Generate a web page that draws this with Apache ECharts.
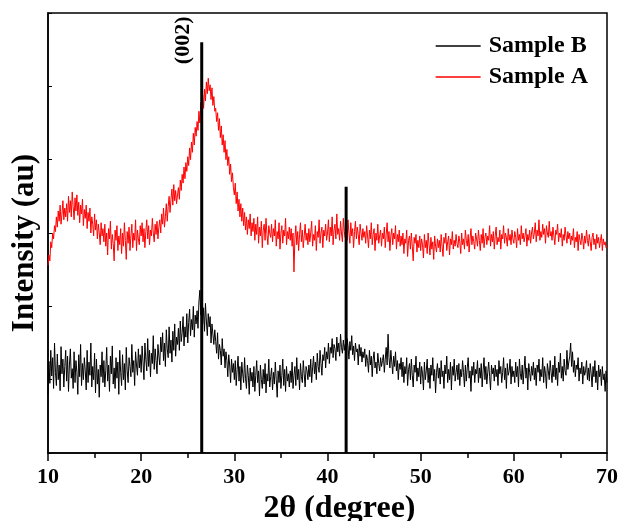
<!DOCTYPE html>
<html>
<head>
<meta charset="utf-8">
<script src="https://cdn.jsdelivr.net/npm/echarts@6/dist/echarts.min.js"></script>
<style>
  html, body { margin: 0; padding: 0; background: #fff; }
  #main { width: 619px; height: 521px; }
</style>
</head>
<body>
<div id="main"></div>
<script>
// 2θ scan grid
var thetaStart = 10;
var thetaStep = 0.1;

// Sample A (red), intensity (a.u.), one value per 0.1 degree, 10..70
var sampleA = [
  256, 270, 262, 288, 280, 300, 292, 310, 302, 322, 308, 330, 316, 338, 312, 326, 344, 318, 334, 322,
  340, 316, 350, 328, 344, 322, 356, 336, 318, 348, 330, 352, 324, 342, 314, 338, 326, 346, 310, 332,
  320, 338, 306, 328, 316, 334, 300, 322, 312, 296, 326, 304, 318, 292, 312, 300, 284, 314, 296, 306,
  288, 312, 282, 300, 270, 306, 292, 316, 278, 298, 286, 262, 304, 290, 310, 276, 296, 284, 306, 272,
  300, 282, 314, 290, 264, 302, 286, 308, 276, 296, 312, 280, 300, 290, 318, 276, 304, 292, 284, 310,
  296, 314, 288, 306, 280, 302, 318, 292, 310, 284, 304, 296, 320, 300, 288, 312, 298, 316, 292, 308,
  318, 300, 326, 312, 334, 308, 322, 340, 316, 336, 350, 328, 346, 360, 338, 366, 344, 358, 340, 352,
  362, 346, 372, 358, 380, 368, 390, 374, 396, 384, 404, 392, 416, 400, 424, 410, 436, 420, 444, 432,
  452, 440, 466, 450, 478, 462, 488, 470, 496, 480, 506, 490, 511, 494, 502, 482, 498, 474, 486, 466,
  470, 452, 464, 440, 456, 430, 446, 420, 434, 410, 426, 400, 414, 392, 404, 380, 394, 370, 382, 362,
  352, 368, 340, 356, 330, 346, 322, 340, 316, 334, 310, 328, 304, 322, 298, 318, 306, 326, 296, 314,
  302, 320, 290, 312, 298, 322, 286, 308, 296, 316, 280, 304, 312, 290, 320, 298, 284, 310, 300, 294,
  312, 288, 306, 296, 318, 282, 302, 292, 314, 278, 300, 310, 286, 304, 296, 320, 284, 302, 292, 308,
  290, 306, 282, 300, 247, 292, 310, 284, 302, 276, 298, 314, 288, 304, 280, 296, 312, 290, 300, 284,
  306, 288, 300, 316, 282, 298, 290, 310, 276, 302, 294, 318, 286, 300, 308, 280, 304, 296, 312, 290,
  300, 318, 288, 308, 296, 322, 284, 304, 312, 292, 326, 298, 306, 290, 316, 300, 288, 320, 302, 294,
  310, 290, 318, 300, 286, 314, 296, 306, 280, 302, 316, 292, 308, 298, 284, 312, 300, 290, 306, 294,
  302, 286, 310, 296, 280, 304, 292, 314, 284, 298, 306, 276, 300, 290, 312, 286, 296, 304, 282, 300,
  292, 308, 280, 298, 314, 288, 302, 276, 296, 306, 284, 300, 292, 310, 278, 298, 288, 304, 282, 296,
  284, 300, 272, 292, 286, 304, 268, 290, 296, 278, 300, 282, 262, 294, 286, 298, 274, 290, 280, 296,
  276, 292, 284, 266, 298, 280, 290, 272, 300, 284, 270, 294, 278, 288, 264, 296, 282, 274, 292, 280,
  290, 274, 298, 282, 268, 294, 286, 300, 276, 288, 296, 270, 292, 284, 302, 278, 290, 282, 298, 286,
  280, 296, 288, 272, 300, 284, 292, 278, 304, 290, 282, 298, 274, 292, 306, 284, 296, 288, 278, 300,
  292, 282, 304, 290, 276, 298, 286, 306, 280, 294, 300, 284, 296, 290, 310, 282, 298, 288, 302, 278,
  296, 308, 284, 294, 288, 304, 278, 298, 292, 310, 286, 300, 294, 282, 306, 290, 298, 284, 304, 292,
  286, 302, 294, 280, 306, 290, 298, 284, 310, 292, 300, 288, 296, 306, 282, 298, 290, 304, 286, 300,
  308, 292, 300, 314, 288, 304, 296, 318, 290, 302, 294, 312, 298, 306, 286, 310, 300, 294, 316, 296,
  302, 290, 308, 296, 284, 304, 298, 312, 288, 300, 294, 306, 282, 298, 290, 308, 296, 286, 302, 292,
  300, 284, 296, 290, 306, 280, 294, 288, 302, 276, 298, 290, 284, 300, 292, 278, 296, 286, 304, 290,
  282, 298, 288, 276, 294, 300, 284, 292, 278, 298, 286, 294, 280, 290, 298, 276, 292, 284, 288, 280,
  282
];

// Sample B (black)
var sampleB = [
  80, 125, 95, 140, 105, 130, 88, 150, 110, 92, 135, 100, 120, 85, 145, 108, 128, 90, 118, 140,
  98, 132, 84, 120, 142, 102, 115, 88, 138, 96, 126, 110, 80, 134, 104, 148, 92, 122, 100, 130,
  112, 86, 140, 96, 124, 106, 150, 90, 118, 100, 136, 82, 128, 94, 114, 76, 120, 104, 138, 96,
  126, 90, 112, 144, 98, 120, 84, 132, 108, 146, 94, 116, 88, 130, 102, 124, 80, 140, 110, 92,
  134, 100, 122, 86, 144, 112, 96, 130, 118, 104, 148, 110, 126, 92, 138, 120, 106, 142, 116, 134,
  110, 146, 124, 100, 150, 128, 112, 156, 118, 140, 104, 136, 122, 160, 114, 142, 126, 108, 148, 132,
  120, 158, 138, 164, 126, 150, 118, 168, 142, 130, 172, 136, 154, 124, 166, 140, 176, 132, 158, 148,
  170, 140, 180, 152, 164, 186, 146, 172, 158, 190, 150, 178, 196, 160, 182, 168, 200, 158, 188, 176,
  194, 170, 206, 222, 188, 210, 176, 198, 166, 204, 180, 160, 190, 172, 186, 150, 176, 162, 148, 168,
  152, 136, 164, 128, 148, 140, 120, 156, 132, 142, 116, 138, 126, 104, 134, 120, 96, 128, 110, 122,
  100, 126, 92, 114, 132, 98, 118, 86, 124, 108, 96, 130, 102, 88, 120, 106, 80, 116, 98, 110,
  90, 118, 84, 106, 126, 96, 112, 78, 120, 100, 88, 114, 94, 122, 82, 108, 98, 128, 90, 104,
  116, 86, 110, 94, 124, 100, 76, 112, 96, 120, 88, 106, 128, 92, 114, 84, 118, 98, 108, 90,
  112, 96, 124, 88, 106, 118, 92, 130, 100, 114, 86, 122, 104, 96, 126, 108, 90, 118, 112, 100,
  120, 104, 128, 96, 116, 132, 108, 124, 100, 136, 118, 110, 140, 122, 106, 134, 126, 144, 116, 138,
  128, 150, 122, 144, 136, 156, 130, 148, 142, 126, 158, 138, 150, 132, 162, 144, 136, 154, 140, 148,
  132, 156, 146, 128, 152, 140, 160, 134, 146, 126, 150, 138, 142, 120, 148, 132, 144, 124, 138, 130,
  142, 118, 134, 126, 110, 140, 120, 132, 104, 128, 138, 116, 124, 108, 136, 122, 112, 130, 118, 126,
  134, 110, 128, 144, 120, 162, 130, 116, 140, 124, 108, 132, 118, 138, 112, 126, 100, 122, 114, 130,
  104, 124, 96, 118, 108, 130, 92, 114, 122, 100, 128, 106, 90, 120, 110, 132, 98, 116, 104, 124,
  94, 118, 108, 86, 124, 100, 112, 128, 96, 116, 88, 120, 106, 130, 98, 114, 82, 110, 122, 102,
  116, 94, 126, 104, 112, 88, 120, 108, 132, 96, 114, 100, 124, 86, 118, 106, 128, 98, 110, 120,
  100, 122, 92, 114, 104, 126, 110, 90, 120, 98, 116, 130, 102, 112, 84, 118, 106, 124, 96, 114,
  108, 126, 96, 116, 102, 122, 90, 112, 130, 100, 118, 94, 110, 124, 104, 86, 120, 108, 116, 98,
  120, 104, 114, 92, 126, 108, 118, 96, 110, 130, 100, 116, 88, 122, 106, 112, 128, 94, 118, 104,
  112, 96, 124, 104, 118, 90, 128, 108, 100, 120, 94, 114, 132, 102, 116, 86, 122, 110, 98, 118,
  106, 124, 100, 116, 92, 120, 110, 128, 98, 114, 104, 130, 96, 118, 108, 88, 122, 112, 100, 126,
  110, 96, 120, 104, 132, 100, 116, 92, 124, 110, 136, 102, 118, 98, 128, 112, 106, 140, 114, 124,
  132, 150, 118, 138, 110, 126, 104, 120, 114, 130, 98, 116, 108, 124, 94, 118, 106, 112, 126, 100,
  116, 98, 122, 108, 90, 118, 104, 126, 96, 112, 86, 120, 104, 114, 92, 118, 100, 108, 84, 112,
  96
];

// reference stick pattern
var refAngles = [26.5, 42.0];
var refHeights = [560, 363];
var refLabels = ['(002)', ''];

var serif = '"Liberation Serif", "Times New Roman", serif';

function toXY(vals) {
  var out = [];
  for (var i = 0; i < vals.length; i++) {
    out.push([+(thetaStart + i * thetaStep).toFixed(1), vals[i]]);
  }
  return out;
}

var refData = refAngles.map(function (a, i) {
  var item = { value: [a, refHeights[i]] };
  if (refLabels[i]) {
    item.label = {
      show: true,
      formatter: refLabels[i],
      rotate: 90,
      position: [-17, -2],
      align: 'center',
      verticalAlign: 'middle',
      color: '#000',
      fontFamily: serif,
      fontWeight: 'bold',
      fontSize: 22
    };
  }
  return item;
});

var chart = echarts.init(document.getElementById('main'));
chart.setOption({
  animation: false,
  backgroundColor: '#fff',
  grid: {
    left: 48, right: 12, top: 13, bottom: 68,
    outerBoundsMode: 'none',
    containLabel: false,
    show: true, borderColor: '#000', borderWidth: 1.5, backgroundColor: 'transparent'
  },
  legend: {
    data: [
      { name: 'Sample B', icon: 'rect' },
      { name: 'Sample A', icon: 'rect' }
    ],
    orient: 'vertical',
    right: 26,
    top: 29,
    itemWidth: 45,
    itemHeight: 1.5,
    itemGap: 7,
    textStyle: { fontFamily: serif, fontWeight: 'bold', fontSize: 24, color: '#000', padding: [0, 0, 0, 3] }
  },
  xAxis: {
    type: 'value',
    min: 10, max: 70, interval: 10,
    name: '2θ (degree)',
    nameLocation: 'middle',
    nameGap: 38,
    nameTextStyle: { fontFamily: serif, fontWeight: 'bold', fontSize: 32, color: '#000', padding: [0, 0, 0, 24] },
    axisLine: { lineStyle: { color: '#000', width: 1.5 } },
    axisTick: { inside: false, length: 8, lineStyle: { color: '#000', width: 1.5 } },
    minorTick: { show: true, splitNumber: 2, length: 5, lineStyle: { color: '#000', width: 1.5 } },
    axisLabel: { margin: 13, fontFamily: serif, fontWeight: 'bold', fontSize: 22, color: '#000' },
    splitLine: { show: false }
  },
  yAxis: {
    type: 'value',
    min: 0, max: 600, interval: 100,
    name: 'Intensity (au)',
    nameLocation: 'middle',
    nameGap: 8,
    nameTextStyle: { fontFamily: serif, fontWeight: 'bold', fontSize: 31, color: '#000', padding: [0, 20, 0, 0] },
    axisLine: { show: true, lineStyle: { color: '#000', width: 1.5 } },
    axisTick: { show: true, inside: true, length: 4, lineStyle: { color: '#000', width: 1 } },
    axisLabel: { show: false },
    splitLine: { show: false }
  },
  series: [
    {
      name: 'Sample B',
      type: 'line',
      symbol: 'none',
      data: toXY(sampleB),
      lineStyle: { color: '#000', width: 1 },
      itemStyle: { color: '#000' }
    },
    {
      name: 'Sample A',
      type: 'line',
      symbol: 'none',
      data: toXY(sampleA),
      lineStyle: { color: '#ff0000', width: 1 },
      itemStyle: { color: '#ff0000' }
    },
    {
      name: 'ref',
      type: 'bar',
      barWidth: 3,
      itemStyle: { color: '#000' },
      data: refData,
      z: 5
    }
  ]
});
</script>
</body>
</html>
